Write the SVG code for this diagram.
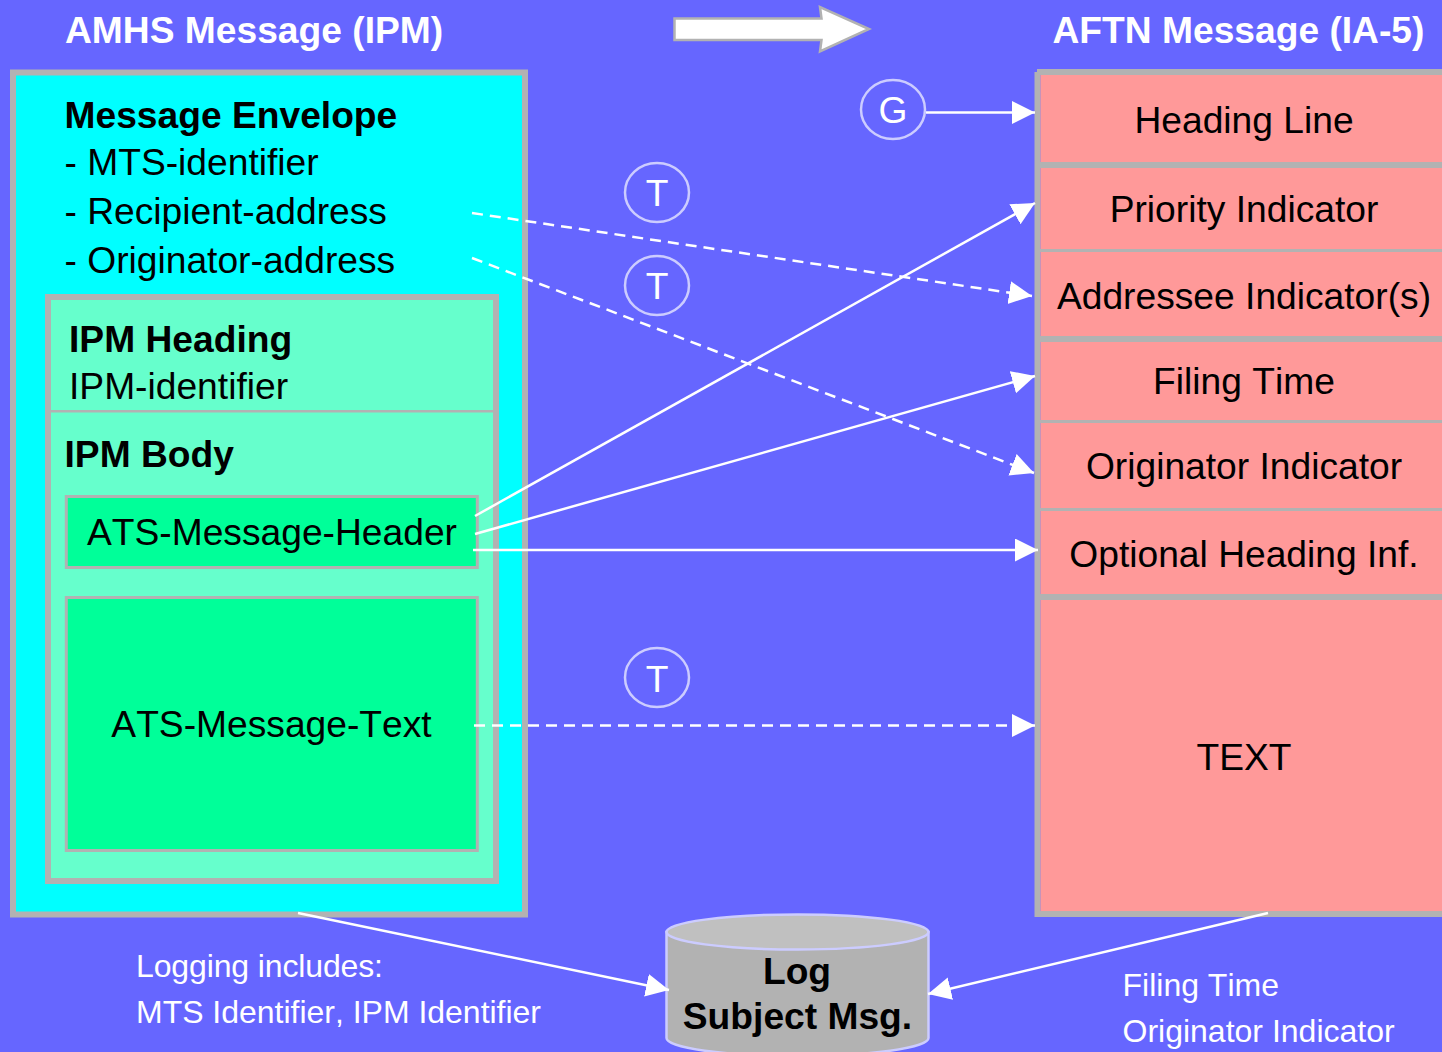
<svg xmlns="http://www.w3.org/2000/svg" width="1442" height="1052" viewBox="0 0 1442 1052">
<defs>
<style>
text{font-family:"Liberation Sans",Arial,sans-serif;font-size:37.2px;fill:#000;font-kerning:none}
.b{font-weight:bold}
.w{fill:#fff}
.s{font-size:32px;fill:#fff}
.m{text-anchor:middle}
.box{stroke:#b2b2b2}
.row{fill:#ff9999}
.bar{fill:#b2b2b2}
.c{fill:none;stroke:#fff;stroke-width:2.5;marker-end:url(#ah)}
.d{stroke-dasharray:11 7}
.o{fill:none;stroke:#ccccff;stroke-width:2.5}
</style>
<marker id="ah" markerUnits="userSpaceOnUse" markerWidth="24" markerHeight="24" refX="23" refY="11.5" orient="auto"><path d="M0 0L23 11.5L0 23Z" fill="#fff"/></marker>
</defs>
<rect width="1442" height="1052" fill="#6666ff"/>
<g id="title-left"><text class="b w" x="65" y="43">AMHS Message (IPM)</text></g>
<g id="title-right"><text class="b w" x="1052.500" y="43">AFTN Message (IA-5)</text></g>
<g id="big-arrow"><path d="M674.500 18.500H821.500L820 7L869 29L820 51.500L821.500 40H674.500Z" fill="#fff" stroke="#b2b2b2" stroke-width="2.500"/></g>
<g id="amhs-envelope">
<rect class="box" x="13" y="72.500" width="512" height="842" fill="#00ffff" stroke-width="6"/>
<text class="b" x="64.500" y="128">Message Envelope</text>
<text x="64.500" y="175">- MTS-identifier</text>
<text x="64.500" y="224">- Recipient-address</text>
<text x="64.500" y="273">- Originator-address</text>
</g>
<g id="ipm-box">
<rect class="box" x="48" y="297" width="448" height="584" fill="#66ffcc" stroke-width="6"/>
<rect class="bar" x="51" y="410" width="442" height="2.500"/>
<text class="b" x="69" y="352">IPM Heading</text>
<text x="69" y="399">IPM-identifier</text>
<text class="b" x="64.500" y="467">IPM Body</text>
</g>
<g id="ats-header">
<rect class="box" x="66.300" y="496.500" width="411" height="71" fill="#00ff99" stroke-width="3"/>
<text x="87" y="545">ATS-Message-Header</text>
</g>
<g id="ats-text">
<rect class="box" x="66.300" y="597.500" width="411" height="253" fill="#00ff99" stroke-width="3"/>
<text class="m" x="271.500" y="737">ATS-Message-Text</text>
</g>
<g id="aftn-frame">
<rect class="bar" x="1037" y="69" width="405" height="6"/>
<rect class="bar" x="1034.500" y="72" width="6" height="845"/>
<rect class="bar" x="1037" y="911" width="405" height="6"/>
</g>
<g id="heading-line"><rect class="row" x="1040.500" y="75" width="402" height="87"/><text class="m" x="1244" y="133">Heading Line</text></g>
<g id="priority-indicator"><rect class="bar" x="1040" y="162" width="402" height="6"/><rect class="row" x="1040.500" y="168" width="402" height="81"/><text class="m" x="1244" y="222">Priority Indicator</text></g>
<g id="addressee-indicator"><rect class="bar" x="1040" y="249" width="402" height="3"/><rect class="row" x="1040.500" y="252" width="402" height="84"/><text class="m" x="1244" y="309">Addressee Indicator(s)</text></g>
<g id="filing-time"><rect class="bar" x="1040" y="336" width="402" height="6"/><rect class="row" x="1040.500" y="342" width="402" height="78"/><text class="m" x="1244" y="394">Filing Time</text></g>
<g id="originator-indicator"><rect class="bar" x="1040" y="420" width="402" height="3"/><rect class="row" x="1040.500" y="423" width="402" height="85"/><text class="m" x="1244" y="479">Originator Indicator</text></g>
<g id="optional-heading"><rect class="bar" x="1040" y="508" width="402" height="3"/><rect class="row" x="1040.500" y="511" width="402" height="83"/><text class="m" x="1244" y="567">Optional Heading Inf.</text></g>
<g id="text-row"><rect class="bar" x="1040" y="594" width="402" height="6"/><rect class="row" x="1040.500" y="600" width="402" height="311"/><text class="m" x="1244" y="770">TEXT</text></g>
<g id="badge-g"><ellipse class="o" cx="893" cy="109.500" rx="32" ry="29.500"/><text class="m w" x="893" y="123">G</text></g>
<g id="badge-t1"><ellipse class="o" cx="657" cy="192.500" rx="32" ry="29.500"/><text class="m w" x="657" y="206">T</text></g>
<g id="badge-t2"><ellipse class="o" cx="657" cy="285.500" rx="32" ry="29.500"/><text class="m w" x="657" y="299">T</text></g>
<g id="badge-t3"><ellipse class="o" cx="657" cy="677.500" rx="32" ry="29.500"/><text class="m w" x="657" y="692">T</text></g>
<g id="log">
<path d="M666.500 932V1038C666.500 1048 725 1056 797.500 1056S928.500 1048 928.500 1038V932Z" fill="#b2b2b2" stroke="#ccccff" stroke-width="2.500"/>
<ellipse cx="797.500" cy="932" rx="131" ry="17.500" fill="#c0c0c0" stroke="#ccccff" stroke-width="2.500"/>
<text class="b m" x="797" y="984">Log</text>
<text class="b m" x="797.500" y="1029">Subject Msg.</text>
</g>
<g id="notes">
<text class="s" x="136" y="977" textLength="247">Logging includes:</text>
<text class="s" x="136" y="1023" textLength="405">MTS Identifier, IPM Identifier</text>
<text class="s" x="1122.500" y="996">Filing Time</text>
<text class="s" x="1122.500" y="1042">Originator Indicator</text>
</g>
<g id="connectors">
<path class="c" d="M926 112.500H1035"/>
<path class="c d" d="M472 213L1032 296"/>
<path class="c d" d="M472 258L1034 473"/>
<path class="c" d="M475 516L1035 203"/>
<path class="c" d="M475 534L1035 376"/>
<path class="c" d="M473 550H1038"/>
<path class="c d" d="M474 725.500H1035"/>
<path class="c" d="M298 913L669 990"/>
<path class="c" d="M1268 913L928 994"/>
</g>
</svg>
